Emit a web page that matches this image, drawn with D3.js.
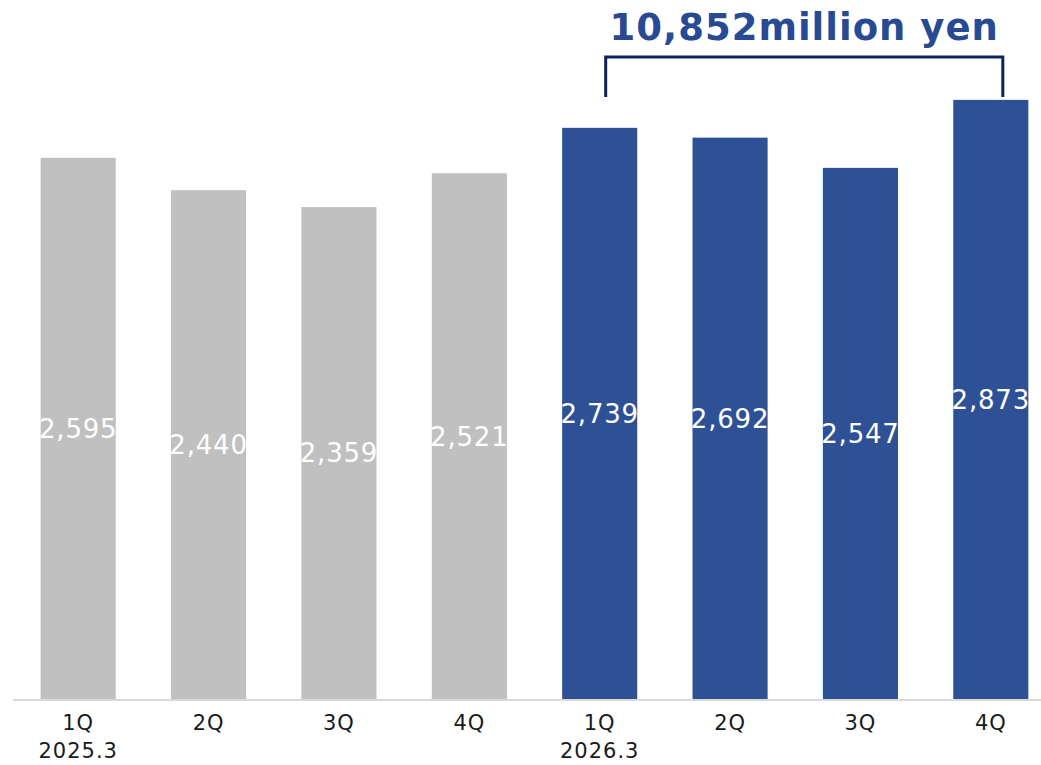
<!DOCTYPE html>
<html>
<head>
<meta charset="utf-8">
<script src="https://cdn.jsdelivr.net/npm/d3@7"></script>
<style>
  body { margin: 0; background: #fff; }
  text { font-family: "DejaVu Sans", "Noto Sans", sans-serif; }
</style>
</head>
<body>
<div id="chart"></div>
<script>
// quarters and values (million yen)
const quarters = ["1Q", "2Q", "3Q", "4Q", "1Q", "2Q", "3Q", "4Q"];
const yearLabels = ["2025.3", "", "", "", "2026.3", "", "", ""];
const values = [2595, 2440, 2359, 2521, 2739, 2692, 2547, 2873];
const periods = ["prev", "prev", "prev", "prev", "cur", "cur", "cur", "cur"];
const totalLabel = "10,852million yen";

const width = 1041, height = 765;
const baseY = 699;

const svg = d3.select("#chart").append("svg")
  .attr("width", width)
  .attr("height", height);

const x = d3.scaleBand()
  .domain(d3.range(values.length))
  .range([13, 1056])
  .paddingInner(0.424)
  .paddingOuter(0.212);

const y = d3.scaleLinear()
  .domain([0, 3352])
  .range([baseY, 0]);

const color = { prev: "#c0c0c0", cur: "#2e5195" };

// bars
svg.selectAll("rect.bar")
  .data(values)
  .enter().append("rect")
  .attr("class", "bar")
  .attr("x", (d, i) => x(i))
  .attr("y", d => y(d))
  .attr("width", x.bandwidth())
  .attr("height", d => baseY - y(d))
  .attr("fill", (d, i) => color[periods[i]]);

// value labels in the middle of each bar
svg.selectAll("text.val")
  .data(values)
  .enter().append("text")
  .attr("class", "val")
  .attr("x", (d, i) => x(i) + x.bandwidth() / 2)
  .attr("y", d => (y(d) + baseY) / 2)
  .attr("dy", "0.36em")
  .attr("text-anchor", "middle")
  .attr("fill", "#fff")
  .attr("font-size", 26)
  .attr("letter-spacing", 0.8)
  .text(d => d3.format(",")(d));

// baseline
svg.append("line")
  .attr("x1", 13).attr("x2", width)
  .attr("y1", baseY + 1).attr("y2", baseY + 1)
  .attr("stroke", "#d9d9d9")
  .attr("stroke-width", 2);

// category labels
const xl = svg.selectAll("g.xl")
  .data(quarters)
  .enter().append("g")
  .attr("transform", (d, i) => `translate(${x(i) + x.bandwidth() / 2},0)`);

xl.append("text")
  .attr("y", 730)
  .attr("text-anchor", "middle")
  .attr("font-size", 21)
  .attr("letter-spacing", 1)
  .attr("fill", "#1a1a1a")
  .text(d => d);

xl.append("text")
  .attr("y", 758)
  .attr("text-anchor", "middle")
  .attr("font-size", 21)
  .attr("letter-spacing", 1)
  .attr("fill", "#1a1a1a")
  .text((d, i) => yearLabels[i]);

// bracket over current year
const bx1 = x(4) + x.bandwidth() / 2 + 6;
const bx2 = x(7) + x.bandwidth() / 2 + 12;
svg.append("path")
  .attr("d", `M${bx1},97 V57 H${bx2} V97`)
  .attr("fill", "none")
  .attr("stroke", "#0d2361")
  .attr("stroke-width", 3);

svg.append("text")
  .attr("x", (bx1 + bx2) / 2)
  .attr("y", 40)
  .attr("text-anchor", "middle")
  .attr("font-size", 37)
  .attr("font-weight", "bold")
  .attr("letter-spacing", 1)
  .attr("fill", "#284a92")
  .text(totalLabel);
</script>
</body>
</html>
